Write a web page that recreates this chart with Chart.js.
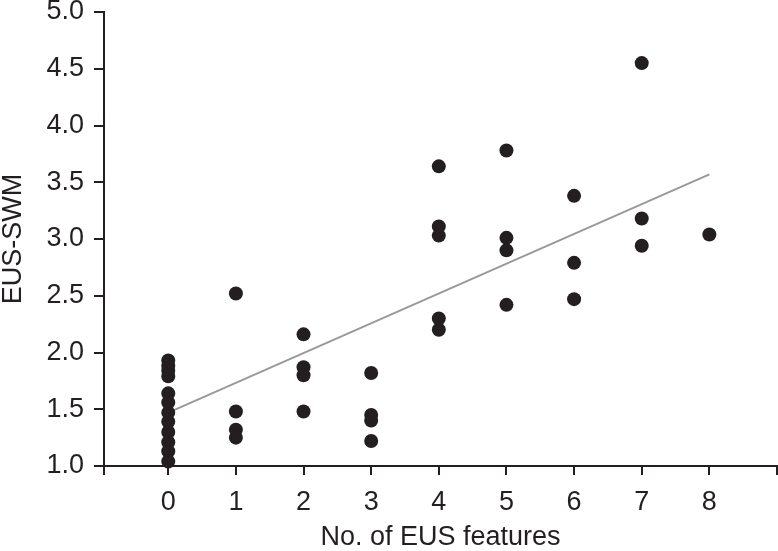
<!DOCTYPE html>
<html lang="en">
<head>
    <meta charset="UTF-8">
    <title>EUS-SWM vs No. of EUS features</title>
    <script src="https://cdn.jsdelivr.net/npm/chart.js"></script>
    <style>
        html, body {
            margin: 0;
            padding: 0;
            background: #ffffff;
        }
        .chart-box {
            width: 778px;
            height: 551px;
        }
    </style>
</head>
<body>

<div class="chart-box">
    <canvas id="swmChart"></canvas>
</div>

<script>
// number of EUS features per patient, and the matching EUS-SWM value
const featureCounts = [
    0, 0, 0, 0, 0, 0, 0, 0, 0, 0, 0, 0,
    1, 1, 1, 1,
    2, 2, 2, 2,
    3, 3, 3, 3,
    4, 4, 4, 4, 4,
    5, 5, 5, 5,
    6, 6, 6,
    7, 7, 7,
    8
];
const swmValues = [
    1.93, 1.88, 1.84, 1.79, 1.64, 1.56, 1.47, 1.39, 1.30, 1.21, 1.13, 1.04,
    2.52, 1.48, 1.32, 1.25,
    2.16, 1.87, 1.80, 1.48,
    1.82, 1.45, 1.40, 1.22,
    3.64, 3.11, 3.03, 2.30, 2.20,
    3.78, 3.01, 2.90, 2.42,
    3.38, 2.79, 2.47,
    4.55, 3.18, 2.94,
    3.04
];

// fitted line, read at its two ends
const fitX = [0, 8];
const fitY = [1.47, 3.57];

const xTicks = [0, 1, 2, 3, 4, 5, 6, 7, 8];
const yTicks = [1.0, 1.5, 2.0, 2.5, 3.0, 3.5, 4.0, 4.5, 5.0];

const ink = '#231f20';
const X_MIN = -0.95, X_MAX = 9;

const points = featureCounts.map((x, i) => ({ x: x, y: swmValues[i] }));
const fitLine = fitX.map((x, i) => ({ x: x, y: fitY[i] }));

Chart.defaults.font.family = '"Liberation Sans", Arial, sans-serif';
Chart.defaults.color = ink;

// only tick marks, no grid inside the plot
const tickGrid = (len) => ({
    drawOnChartArea: false,
    drawTicks: true,
    tickLength: len,
    tickWidth: 2,
    tickColor: ink,
    color: ink,
    lineWidth: 2
});

new Chart(document.getElementById('swmChart'), {
    type: 'scatter',
    data: {
        datasets: [
            {
                label: 'EUS-SWM',
                data: points,
                backgroundColor: ink,
                borderWidth: 0,
                pointRadius: 7,
                pointHoverRadius: 7,
                clip: false,
                order: 0
            },
            {
                type: 'line',
                label: 'fit',
                data: fitLine,
                borderColor: '#999999',
                borderWidth: 2,
                pointRadius: 0,
                fill: false,
                order: 1
            }
        ]
    },
    options: {
        responsive: true,
        maintainAspectRatio: false,
        animation: false,
        layout: {
            autoPadding: false,
            padding: { top: 0, right: 1, bottom: 0, left: 0 }
        },
        plugins: {
            legend: { display: false },
            tooltip: { enabled: false }
        },
        scales: {
            x: {
                type: 'linear',
                min: X_MIN,
                max: X_MAX,
                afterBuildTicks: function(axis) {
                    axis.ticks = [X_MIN].concat(xTicks, [X_MAX]).map(v => ({ value: v }));
                },
                afterFit: function(axis) {
                    axis.height = 85;
                    axis.paddingLeft = 0;
                    axis.paddingRight = 0;
                },
                ticks: {
                    autoSkip: false,
                    maxRotation: 0,
                    padding: 11,
                    font: { size: 27, lineHeight: 1.2 },
                    callback: function(v) {
                        return xTicks.includes(v) ? String(v) : '';
                    }
                },
                grid: tickGrid(9),
                border: { display: true, color: ink, width: 2 },
                title: {
                    display: true,
                    text: 'No. of EUS features',
                    font: { size: 27, lineHeight: 1 },
                    padding: { top: 0, bottom: 0 }
                }
            },
            y: {
                min: 1,
                max: 5,
                afterBuildTicks: function(axis) {
                    axis.ticks = yTicks.map(v => ({ value: v }));
                },
                afterFit: function(axis) {
                    axis.width = 104;
                    axis.paddingTop = 12;
                    axis.paddingBottom = 0;
                },
                ticks: {
                    padding: 10,
                    font: { size: 27, lineHeight: 1 },
                    callback: function(v) {
                        return Number(v).toFixed(1);
                    }
                },
                grid: tickGrid(10),
                border: { display: true, color: ink, width: 2 },
                title: {
                    display: true,
                    text: 'EUS-SWM',
                    font: { size: 27, lineHeight: 1 },
                    padding: { top: 0, bottom: 0 }
                }
            }
        }
    }
});
</script>

</body>
</html>
